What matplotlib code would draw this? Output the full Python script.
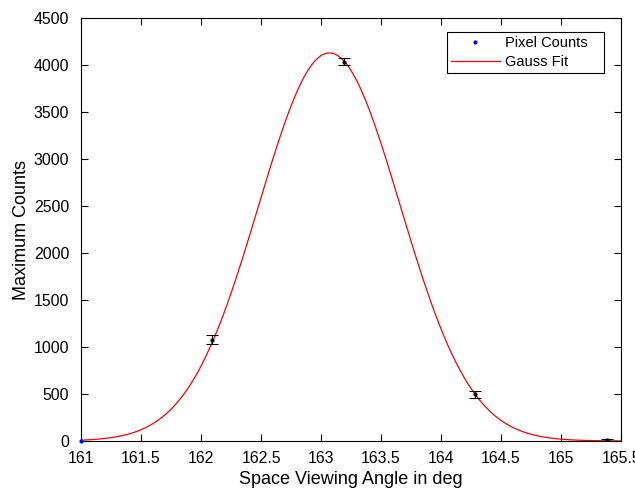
import matplotlib
matplotlib.use("Agg")
import matplotlib.pyplot as plt
import numpy as np

plt.rcParams['font.family'] = ['Liberation Sans', 'DejaVu Sans']

# measured points
angle = [161.0, 162.09, 163.19, 164.28, 165.38]
counts = [0, 1078, 4038, 496, 15]
count_err = [0, 50, 38, 38, 10]

# gauss fit parameters
fit_amp = 4130
fit_center = 163.07
fit_sigma = 0.59


def gauss(x, a, mu, s):
    return a * np.exp(-(x - mu) ** 2 / (2 * s ** 2))


fig = plt.figure(figsize=(6.35, 4.9), dpi=100)
ax = fig.add_axes([0.1276, 0.1, 0.8504, 0.863])

xs = np.linspace(161, 165.5, 500)
ax.plot(angle[:1], counts[:1], 'b.', markersize=4, label='Pixel Counts   ', clip_on=False, zorder=5)
ax.plot(xs, gauss(xs, fit_amp, fit_center, fit_sigma), 'r-', linewidth=0.9, label='Gauss Fit')
ax.errorbar(angle[1:], counts[1:], yerr=count_err[1:], fmt='k.', markersize=4,
            ecolor='k', elinewidth=0.8, capsize=4, capthick=0.8, zorder=4)

ax.set_xlim(161, 165.5)
ax.set_ylim(0, 4500)
ax.set_xticks(np.arange(161, 165.51, 0.5))
ax.set_xticklabels(['161', '161.5', '162', '162.5', '163', '163.5', '164', '164.5', '165', '165.5'])
ax.set_yticks(np.arange(0, 4501, 500))
ax.tick_params(direction='in', top=True, right=True, labelsize=11.4, length=5)
ax.tick_params(axis='x', pad=7.5)
ax.tick_params(axis='y', pad=8.5)
ax.set_xlabel('Space Viewing Angle in deg', fontsize=13, labelpad=3)
ax.set_ylabel('Maximum Counts', fontsize=13, labelpad=3)

leg = ax.legend(loc='upper right', fontsize=10.5, fancybox=False, framealpha=1,
                edgecolor='k', borderpad=0.25, handlelength=3.4, handletextpad=0.35,
                labelspacing=0.38, borderaxespad=0,
                bbox_to_anchor=(0.9685, 0.967))
leg.get_frame().set_linewidth(0.8)

plt.savefig('out.png', dpi=100)
